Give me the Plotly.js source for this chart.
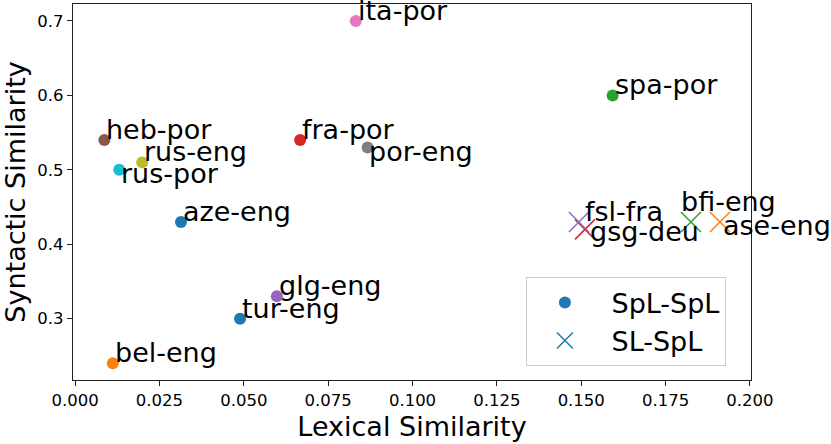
<!DOCTYPE html>
<html>
<head>
<meta charset="utf-8">
<script src="https://cdn.plot.ly/plotly-3.0.1.min.js"></script>
<style>html,body{margin:0;padding:0;background:#fff;}#chart{width:831px;height:444px;}</style>
</head>
<body>
<div id="chart"></div>
<script>
// SpL-SpL pairs
var splLabels = ["aze-eng", "bel-eng", "spa-por", "fra-por", "glg-eng", "heb-por", "ita-por", "por-eng", "rus-eng", "rus-por", "tur-eng"];
var splLexical = [0.0314, 0.0112, 0.1593, 0.0667, 0.0598, 0.0087, 0.0832, 0.0867, 0.0199, 0.0131, 0.0489];
var splSyntactic = [0.43, 0.24, 0.60, 0.54, 0.33, 0.54, 0.70, 0.53, 0.51, 0.50, 0.30];
// SL-SpL pairs
var slLabels = ["ase-eng", "bfi-eng", "gsg-deu", "fsl-fra"];
var slLexical = [0.1911, 0.1825, 0.1511, 0.1493];
var slSyntactic = [0.43, 0.43, 0.42, 0.43];
// legend names
var seriesNames = ["SpL-SpL", "SL-SpL"];

// styling (not data)
var splColors = ["#1f77b4", "#ff7f0e", "#2ca02c", "#d62728", "#9467bd", "#8c564b", "#e377c2", "#7f7f7f", "#bcbd22", "#17becf", "#1f77b4"];
var slColors = ["#ff7f0e", "#2ca02c", "#d62728", "#9467bd"];
// label pixel shifts [dx, dy] relative to default (baseline at point)
var splShift = [[0,0],[0,0],[0,0],[0,0],[0,0],[0,0],[0,0],[-1,-15],[0,0],[0,-14],[0,0]];
var slShift = [[1,-14],[-12,10],[3,-13],[4,0]];

var FONT = "DejaVu Sans, sans-serif";
var NB = "\u00a0";
var traces = [
  {x: splLexical, y: splSyntactic, mode: "markers", type: "scatter", showlegend: false,
   marker: {symbol: "circle", size: 12, color: splColors}, hoverinfo: "text", text: splLabels},
  {x: slLexical, y: slSyntactic, mode: "markers", type: "scatter", showlegend: false,
   marker: {symbol: "x-thin", size: 20, color: slColors, line: {color: slColors, width: 1.5}}, hoverinfo: "text", text: slLabels},
  {x: [null], y: [null], mode: "markers", type: "scatter", name: NB + seriesNames[0], legendgroup: "a",
   marker: {symbol: "circle", size: 12, color: "#1f77b4"}},
  {x: [null], y: [null], mode: "markers", type: "scatter", name: NB + seriesNames[1], legendgroup: "b",
   marker: {symbol: "x-thin", size: 20, color: "#1f77b4", line: {color: "#1f77b4", width: 1.5}}}
];

var annotations = [];
function addLabels(xs, ys, labels, shifts) {
  for (var i = 0; i < labels.length; i++) {
    annotations.push({x: xs[i], y: ys[i], xref: "x", yref: "y", text: labels[i], showarrow: false,
      xanchor: "left", yanchor: "bottom", xshift: shifts[i][0], yshift: -7 + shifts[i][1],
      font: {family: FONT, size: 27, color: "#000"}});
  }
}
addLabels(splLexical, splSyntactic, splLabels, splShift);
addLabels(slLexical, slSyntactic, slLabels, slShift);

var layout = {
  width: 831, height: 444,
  margin: {l: 73, r: 80, t: 4, b: 64},
  paper_bgcolor: "#fff", plot_bgcolor: "#fff",
  font: {family: FONT, color: "#000"},
  xaxis: {range: [-0.0006, 0.2003], tickvals: [0, 0.025, 0.05, 0.075, 0.1, 0.125, 0.15, 0.175, 0.2],
    ticktext: ["0.000","0.025","0.050","0.075","0.100","0.125","0.150","0.175","0.200"],
    showgrid: false, zeroline: false, showline: true, mirror: true, linecolor: "#222", linewidth: 1.2,
    ticks: "outside", ticklen: 5, tickwidth: 1, tickcolor: "#222", tickfont: {family: FONT, size: 16.5, color: "#000"},
    title: {text: "Lexical Similarity", font: {family: FONT, size: 27, color: "#000"}, standoff: 8}},
  yaxis: {range: [0.2176, 0.7228], tickvals: [0.3, 0.4, 0.5, 0.6, 0.7], ticktext: ["0.3","0.4","0.5","0.6","0.7"],
    showgrid: false, zeroline: false, showline: true, mirror: true, linecolor: "#222", linewidth: 1.2,
    ticks: "outside", ticklen: 5, tickwidth: 1, tickcolor: "#222", tickfont: {family: FONT, size: 16.5, color: "#000"},
    title: {text: "Syntactic Similarity", font: {family: FONT, size: 27, color: "#000"}, standoff: 8}},
  showlegend: true,
  legend: {x: 0.668, y: 0.273, xanchor: "left", yanchor: "top", bgcolor: "rgba(255,255,255,0.8)",
    bordercolor: "#cccccc", borderwidth: 1, font: {family: FONT, size: 27, color: "#000"},
    itemwidth: 66, tracegroupgap: 6, traceorder: "normal"},
  annotations: annotations
};
Plotly.newPlot("chart", traces, layout, {displayModeBar: false, staticPlot: true});
</script>
</body>
</html>
